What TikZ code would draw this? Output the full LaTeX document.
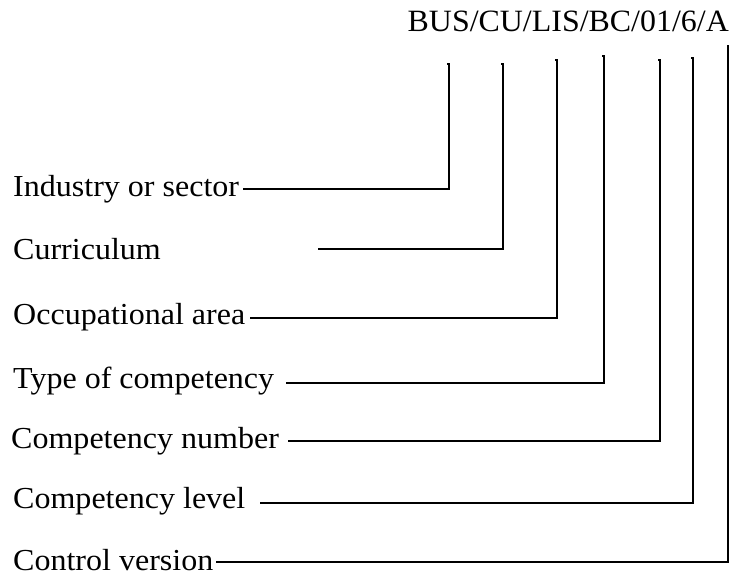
\documentclass[tikz,border=0pt]{standalone}
\usepackage{fontspec}
\setmainfont{Liberation Serif}
\begin{document}
\begin{tikzpicture}[x=1pt,y=-1pt,
  lbl/.style={anchor=base west,inner sep=0pt,xscale=1.05,font=\fontsize{30.5}{36}\selectfont},
  hdr/.style={anchor=base east,inner sep=0pt,xscale=1.03,font=\fontsize{31}{36}\selectfont},
  conn/.style={line width=1.6pt,line cap=butt,line join=miter}]
\useasboundingbox (0,0) rectangle (736,577);
\node[hdr] (code) at (729,32) {BUS/CU/LIS/BC/01/6/A};
\node[lbl] (l1) at (13,197) {Industry or sector};
\node[lbl] (l2) at (13,260) {Curriculum};
\node[lbl] (l3) at (13,324) {Occupational area};
\node[lbl] (l4) at (13,388) {Type of competency};
\node[lbl] (l5) at (11,448) {Competency number};
\node[lbl] (l6) at (13,508) {Competency level};
\node[lbl] (l7) at (13,570) {Control version};
% line starts
\coordinate (s1) at (243,189);
\coordinate (s2) at (318,249);
\coordinate (s3) at (250,318);
\coordinate (s4) at (286,383);
\coordinate (s5) at (288,441);
\coordinate (s6) at (260,503);
\coordinate (s7) at (216,562);
% tops
\coordinate (t1) at (449,64);
\coordinate (t2) at (503,64);
\coordinate (t3) at (557,60);
\coordinate (t4) at (604,56);
\coordinate (t5) at (660,60);
\coordinate (t6) at (693,58);
\coordinate (t7) at (728,45);
\foreach \i in {1,...,6}{
  \draw[conn] (s\i) -| (t\i) -- ++(-2.5,0);
}
\draw[conn] (s7) -| (t7);
\end{tikzpicture}
\end{document}
